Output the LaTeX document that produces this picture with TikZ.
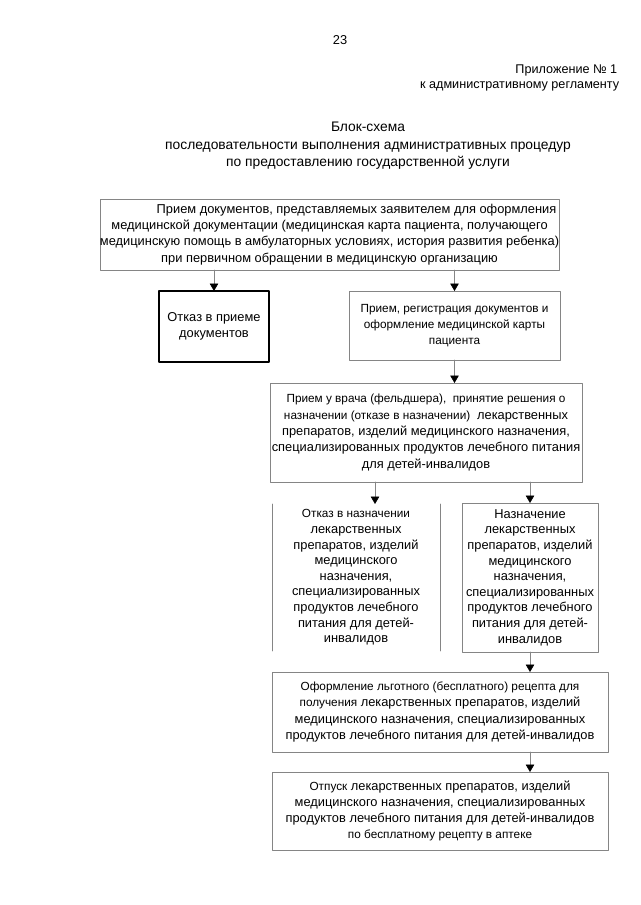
\documentclass[tikz,border=0pt]{standalone}
\usepackage{fontspec}
\setmainfont{Liberation Sans}
\usetikzlibrary{arrows.meta}
\newdimen\px \px=0.0328125cm
\newcommand\fsm{\fontsize{11}{14.6}\selectfont}
\newcommand\flg{\fontsize{12}{15.2}\selectfont}
\newcommand\fnr{\fontsize{12}{14.6}\selectfont}
\begin{document}
\begin{tikzpicture}[x=1\px, y=-1\px, line cap=round, line join=round,
    box/.style={draw=black!48, line width=0.6pt, inner sep=0pt, outer sep=0pt, align=center, font=\flg},
    bold box/.style={box, draw=black, line width=1.5pt},
    rule/.style={draw=black!48, line width=0.6pt},
    link/.style={rule, -{Triangle[width=8pt, length=7pt, color=black]}}]
  \useasboundingbox (0,0) rectangle (640,905);
  \node[font=\flg] (page) at (340,40) {23};
  \node[font=\fontsize{11.8}{15}\selectfont, anchor=east] (app) at (621,70) {Приложение № 1};
  \node[font=\fontsize{11.8}{15}\selectfont, anchor=east] (reg) at (623,86) {к административному регламенту};
  \node[font=\fontsize{12.9}{16.5}\selectfont, align=center] (title) at (368,146)
    {Блок-схема\\последовательности выполнения административных процедур\\по предоставлению государственной услуги};
  \node[box, minimum width=451\px, minimum height=71\px] (recv) at (329.5,234.5)
    {\hspace*{54\px}Прием документов, представляемых заявителем для оформления\\
     медицинской документации (медицинская карта пациента, получающего\\
     медицинскую помощь в амбулаторных условиях, история развития ребенка)\\
     при первичном обращении в медицинскую организацию};
  \node[bold box, minimum width=110\px, minimum height=71\px] (deny) at (214,326.5)
    {Отказ в приеме\\документов};
  \node[box, font=\fsm, minimum width=211\px, minimum height=69\px] (card) at (454.5,325.5)
    {Прием, регистрация документов и\\оформление медицинской карты\\пациента};
  \node[box, minimum width=312\px, minimum height=99\px] (exam) at (426,432.5)
    {{\fsm Прием у врача (фельдшера),\ \ принятие решения о}\\
     {\fsm назначении (отказе в назначении)\ } лекарственных\\
     препаратов, изделий медицинского назначения,\\
     специализированных продуктов лечебного питания\\
     для детей-инвалидов};
  \node[box, font=\fnr, draw=none, minimum width=168\px, minimum height=147\px] (refuse) at (356,577.5)
    {{\fsm Отказ в назначении}\\лекарственных\\препаратов, изделий\\медицинского\\назначения,\\
     специализированных\\продуктов лечебного\\питания для детей-\\инвалидов};
  \node[box, font=\fnr, minimum width=136\px, minimum height=149\px] (grant) at (530,577.5)
    {Назначение\\лекарственных\\препаратов, изделий\\медицинского\\назначения,\\
     специализированных\\продуктов лечебного\\питания для детей-\\инвалидов};
  \node[box, minimum width=336\px, minimum height=80\px] (recipe) at (440,712)
    {{\fsm Оформление льготного (бесплатного) рецепта для}\\
     {\fsm получения} лекарственных препаратов, изделий\\
     медицинского назначения, специализированных\\
     продуктов лечебного питания для детей-инвалидов};
  \node[box, minimum width=336\px, minimum height=78\px] (issue) at (440,811)
    {{\fsm Отпуск} лекарственных препаратов, изделий\\
     медицинского назначения, специализированных\\
     продуктов лечебного питания для детей-инвалидов\\
     {\fsm по бесплатному рецепту в аптеке}};
  \draw[rule] (refuse.north west) -- (refuse.south west);
  \draw[rule] (refuse.north east) -- (refuse.south east);
  \draw[link] (recv.south -| deny.north) -- (deny.north);
  \draw[link] (recv.south -| card.north) -- (card.north);
  \draw[link] (card.south) -- (card.south |- exam.north);
  \draw[link] ([xshift=19\px]exam.south -| refuse.north) -- ([xshift=19\px]refuse.north);
  \draw[link] (exam.south -| grant.north) -- (grant.north);
  \draw[link] (grant.south) -- (grant.south |- recipe.north);
  \draw[link] (recipe.south -| grant.south) -- (issue.north -| grant.south);
\end{tikzpicture}
\end{document}
